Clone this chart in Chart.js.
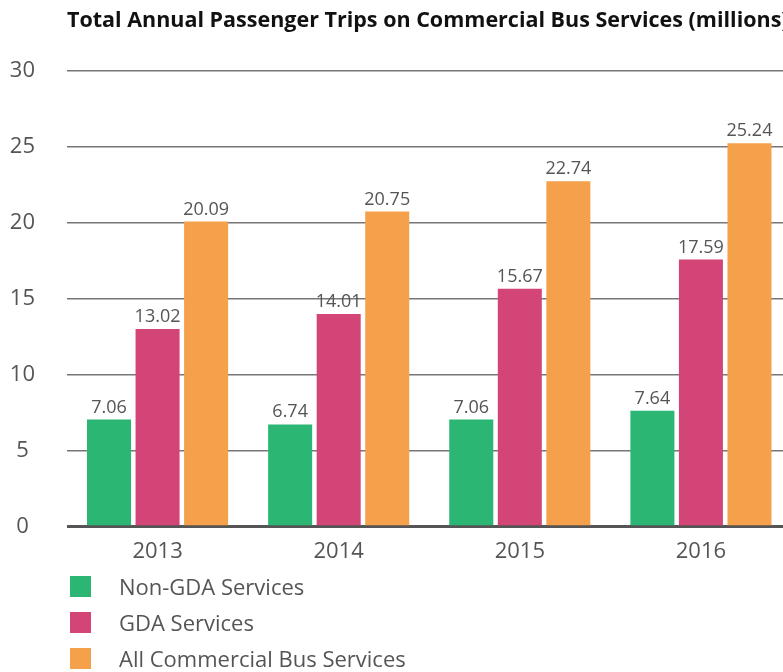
<!DOCTYPE html>
<html>
<head>
<meta charset="utf-8">
<script src="https://cdn.jsdelivr.net/npm/chart.js@4"></script>
<style>
  html, body { margin: 0; padding: 0; background: #fff; overflow: hidden; }
  #wrap { position: relative; width: 800px; height: 572px; }
  #legend { position: absolute; left: 70px; top: 568px; font-family: "Open Sans", sans-serif; font-size: 22px; color: #555; }
  #legend div { display: flex; align-items: center; height: 36px; }
  #legend span.box { width: 21px; height: 21px; margin-right: 28px; }
</style>
</head>
<body>
<div id="wrap"><canvas id="busChart"></canvas></div>
<div id="legend"></div>
<script>
const years = ["2013", "2014", "2015", "2016"];
const nonGda = [7.06, 6.74, 7.06, 7.64];
const gda = [13.02, 14.01, 15.67, 17.59];
const allCommercial = [20.09, 20.75, 22.74, 25.24];
const yTicks = [0, 5, 10, 15, 20, 25, 30];

const seriesNames = ["Non-GDA Services", "GDA Services", "All Commercial Bus Services"];
const seriesColors = ["#2bb673", "#d44577", "#f5a04a"];

// value labels above each bar
const valueLabels = {
  id: "valueLabels",
  afterDatasetsDraw(chart) {
    const ctx = chart.ctx;
    ctx.save();
    ctx.font = "18px 'Open Sans', sans-serif";
    ctx.fillStyle = "#555";
    ctx.textAlign = "center";
    ctx.textBaseline = "alphabetic";
    chart.data.datasets.forEach((ds, i) => {
      chart.getDatasetMeta(i).data.forEach((bar, j) => {
        ctx.fillText(ds.data[j].toFixed(2), bar.x, bar.y - 7);
      });
    });
    ctx.restore();
  },
};

const ctx = document.getElementById("busChart").getContext("2d");
const chart = new Chart(ctx, {
  type: "bar",
  data: {
    labels: years,
    datasets: [
      { label: seriesNames[0], data: nonGda, backgroundColor: seriesColors[0] },
      { label: seriesNames[1], data: gda, backgroundColor: seriesColors[1] },
      { label: seriesNames[2], data: allCommercial, backgroundColor: seriesColors[2] },
    ],
  },
  options: {
    responsive: true,
    maintainAspectRatio: false,
    animation: false,
    categoryPercentage: 0.804,
    barPercentage: 0.907,
    layout: { padding: { left: 0, right: 8.5, top: 0, bottom: 0 } },
    plugins: {
      legend: { display: false },
      tooltip: { enabled: false },
      title: {
        display: true,
        fullSize: false,
        text: "Total Annual Passenger Trips on Commercial Bus Services (millions)",
        align: "start",
        color: "#111",
        font: { family: "'Open Sans', sans-serif", size: 21.5, weight: "bold" },
        padding: { top: 8.4, bottom: 36.8 },
      },
    },
    scales: {
      x: {
        grid: { display: false },
        border: { display: false },
        ticks: { color: "#555", font: { family: "'Open Sans', sans-serif", size: 22 }, padding: 4 },
      },
      y: {
        min: 0,
        max: 30,
        afterBuildTicks: (scale) => { scale.ticks = yTicks.map((v) => ({ value: v })); },
        afterFit: (scale) => { scale.width = 67; },
        grid: {
          color: (c) => (c.tick.value === 0 ? "#555" : "#777"),
          lineWidth: (c) => (c.tick.value === 0 ? 3 : 1.5),
          drawTicks: false,
        },
        border: { display: false },
        ticks: {
          color: "#555",
          font: { family: "'Open Sans', sans-serif", size: 22 },
          crossAlign: "center",
          padding: 32,
        },
      },
    },
  },
  plugins: [valueLabels],
});

// legend list below the chart
const legend = document.getElementById("legend");
seriesNames.forEach((name, i) => {
  const row = document.createElement("div");
  row.innerHTML = `<span class="box" style="background:${seriesColors[i]}"></span>${name}`;
  legend.appendChild(row);
});
</script>
</body>
</html>
